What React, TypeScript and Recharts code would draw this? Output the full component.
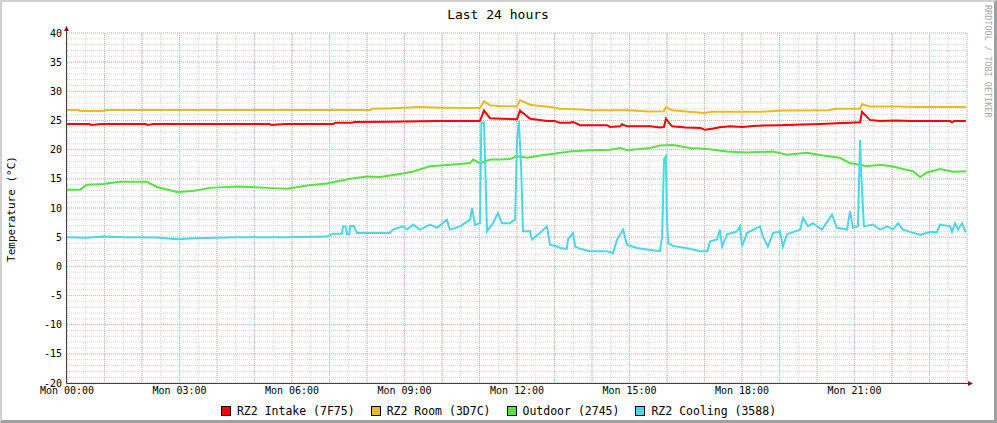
import React from 'react';
import { LineChart, Line, XAxis, YAxis, CartesianGrid } from 'recharts';

const FONT = '"DejaVu Sans Mono", monospace';

// hours since Mon 00:00 and temperatures (°C)
const intakeHours = [0, 0.6, 0.65, 0.9, 2.1, 2.15, 2.3, 5.4, 5.45, 5.8, 7.1, 7.15, 7.6, 7.65, 8.6, 9.9, 11.01, 11.12, 11.28, 11.6, 12.0, 12.08, 12.35, 12.61, 12.8, 13.0, 13.15, 13.41, 13.49, 13.55, 13.68, 14.4, 14.48, 14.75, 14.8, 14.93, 15.55, 15.81, 15.92, 15.97, 16.13, 16.5, 16.9, 17.01, 17.2, 17.41, 17.68, 18.0, 18.4, 19.01, 19.6, 20.08, 20.88, 21.15, 21.2, 21.41, 21.68, 22.1, 22.5, 23.55, 23.6, 23.65, 23.97];
const intakeTemp = [24.4, 24.4, 24.25, 24.4, 24.4, 24.25, 24.4, 24.4, 24.25, 24.4, 24.4, 24.6, 24.6, 24.75, 24.8, 24.9, 24.9, 26.7, 25.4, 25.3, 25.2, 26.7, 25.3, 25.1, 24.9, 24.9, 24.6, 24.6, 24.75, 24.6, 24.2, 24.2, 23.9, 24.0, 24.35, 24.0, 24.0, 23.8, 23.9, 25.3, 24.0, 23.8, 23.7, 23.4, 23.6, 23.85, 24.0, 23.9, 24.1, 24.2, 24.3, 24.4, 24.6, 24.7, 26.5, 25.1, 24.9, 25.0, 24.9, 24.9, 24.7, 24.9, 24.9];

const roomHours = [0, 0.3, 0.35, 1.0, 1.05, 8.1, 8.13, 8.7, 9.4, 10.0, 11.01, 11.12, 11.28, 11.6, 12.0, 12.08, 12.35, 12.61, 12.9, 13.15, 13.7, 14.0, 15.0, 15.5, 15.92, 15.97, 16.13, 16.6, 17.0, 17.2, 18.5, 19.1, 20.3, 20.5, 21.15, 21.2, 21.41, 22.2, 22.5, 23.97];
const roomTemp = [26.8, 26.8, 26.65, 26.65, 26.8, 26.8, 27.0, 27.1, 27.3, 27.2, 27.15, 28.3, 27.6, 27.45, 27.45, 28.5, 27.7, 27.5, 27.3, 27.0, 26.9, 26.75, 26.75, 26.55, 26.6, 27.3, 26.75, 26.5, 26.3, 26.5, 26.5, 26.7, 26.75, 27.0, 27.0, 27.8, 27.4, 27.4, 27.3, 27.3];

const outdoorHours = [0, 0.35, 0.53, 0.96, 1.41, 2.13, 2.4, 2.93, 3.36, 3.81, 4.53, 5.33, 5.87, 6.4, 6.93, 7.55, 8.0, 8.35, 8.96, 9.23, 9.68, 9.95, 10.4, 10.75, 10.83, 11.01, 11.28, 11.55, 11.81, 12.0, 12.27, 12.61, 12.88, 13.41, 13.95, 14.48, 14.75, 14.93, 15.55, 15.81, 16.16, 16.61, 17.07, 17.6, 18.13, 18.83, 19.2, 19.73, 20.16, 20.61, 20.88, 21.33, 21.68, 22.03, 22.29, 22.56, 22.75, 22.93, 23.28, 23.63, 23.97];
const outdoorTemp = [13.15, 13.15, 14.0, 14.1, 14.5, 14.5, 13.6, 12.75, 12.9, 13.45, 13.7, 13.45, 13.3, 13.85, 14.2, 15.0, 15.4, 15.3, 15.9, 16.25, 17.15, 17.3, 17.5, 17.7, 18.3, 17.7, 18.3, 18.3, 18.4, 18.85, 18.6, 19.0, 19.2, 19.7, 19.9, 20.0, 20.3, 19.9, 20.3, 20.7, 20.8, 20.3, 20.1, 19.7, 19.5, 19.7, 19.15, 19.45, 19.0, 18.6, 17.7, 17.15, 17.4, 17.1, 16.7, 16.3, 15.3, 16.1, 16.7, 16.2, 16.3];

const coolingHours = [0, 0.5, 0.96, 1.5, 2.4, 2.93, 3.4, 4.53, 5.87, 6.93, 7.09, 7.33, 7.36, 7.43, 7.47, 7.53, 7.55, 7.65, 7.73, 8.61, 8.69, 8.96, 9.07, 9.23, 9.41, 9.68, 9.87, 10.13, 10.21, 10.48, 10.75, 10.8, 10.83, 10.88, 11.01, 11.05, 11.12, 11.15, 11.2, 11.36, 11.49, 11.6, 11.81, 11.95, 12.0, 12.05, 12.11, 12.16, 12.35, 12.4, 12.61, 12.8, 12.88, 13.07, 13.15, 13.33, 13.36, 13.49, 13.55, 13.68, 13.95, 14.4, 14.56, 14.67, 14.83, 14.93, 15.2, 15.55, 15.81, 15.87, 15.92, 15.97, 16.0, 16.03, 16.16, 16.61, 16.88, 17.07, 17.15, 17.33, 17.41, 17.47, 17.6, 17.87, 17.95, 18.0, 18.13, 18.4, 18.48, 18.56, 18.69, 18.83, 19.01, 19.09, 19.2, 19.55, 19.63, 19.76, 19.89, 20.13, 20.4, 20.53, 20.8, 20.88, 20.96, 21.09, 21.15, 21.17, 21.25, 21.49, 21.68, 21.87, 22.03, 22.16, 22.29, 22.48, 22.75, 23.01, 23.2, 23.28, 23.55, 23.6, 23.68, 23.76, 23.87, 23.95, 23.97];
const coolingTemp = [4.97, 4.9, 5.1, 5.0, 4.95, 4.65, 4.8, 5.0, 5.0, 5.1, 5.6, 5.6, 6.85, 6.85, 5.5, 5.5, 6.9, 6.9, 5.7, 5.7, 6.3, 6.85, 6.3, 7.15, 6.3, 7.15, 6.6, 8.0, 6.3, 6.85, 8.0, 10.0, 9.0, 7.1, 7.4, 24.6, 24.6, 17.7, 6.0, 7.4, 9.15, 7.4, 7.4, 8.0, 21.7, 24.9, 17.0, 6.0, 6.0, 4.6, 5.7, 6.85, 3.7, 3.4, 3.15, 3.0, 4.6, 5.7, 3.4, 3.0, 2.6, 2.6, 2.3, 4.6, 6.3, 3.7, 3.15, 2.8, 2.6, 5.15, 18.3, 18.85, 8.0, 4.0, 3.5, 3.0, 2.6, 2.6, 4.3, 4.6, 6.3, 3.4, 5.5, 6.0, 6.85, 3.4, 5.7, 6.6, 6.85, 5.1, 3.4, 5.7, 6.0, 3.4, 5.5, 6.3, 8.3, 6.85, 7.4, 6.3, 8.85, 6.6, 6.3, 9.4, 6.6, 6.85, 21.7, 17.1, 6.85, 7.15, 6.3, 6.85, 6.3, 7.4, 6.3, 5.9, 5.4, 5.9, 5.9, 7.15, 6.85, 5.9, 7.4, 6.3, 7.4, 6.0, 6.2];

const hourTicks = [0, 3, 6, 9, 12, 15, 18, 21];
const tempTicks = [-20, -15, -10, -5, 0, 5, 10, 15, 20, 25, 30, 35, 40];

const zip = (hours: number[], temps: number[]) =>
  hours.slice(0, temps.length).map((t, i) => ({ t, v: temps[i] }));

const series = [
  { name: 'RZ2 Intake (7F75)', color: '#ff0000', data: zip(intakeHours, intakeTemp) },
  { name: 'RZ2 Room (3D7C)', color: '#e8bb1e', data: zip(roomHours, roomTemp) },
  { name: 'Outdoor (2745)', color: '#55e33f', data: zip(outdoorHours, outdoorTemp) },
  { name: 'RZ2 Cooling (3588)', color: '#4ad8e8', data: zip(coolingHours, coolingTemp) },
];

// grid lines
const minorHours = Array.from({ length: 49 }, (_, i) => i * 0.5);
const majorHours = Array.from({ length: 25 }, (_, i) => i);
const minorTemps = Array.from({ length: 61 }, (_, i) => i - 20);

const tickStyle = { fill: '#000', fontSize: 10, fontFamily: FONT };

const App = () => {
  return (
    <div style={{ position: 'absolute', left: 0, top: 0, width: 997, height: 423, background: '#fff', fontFamily: FONT }}>
      <LineChart width={997} height={423} margin={{ top: 33, right: 30, bottom: 0, left: 0 }}>
        <CartesianGrid horizontalValues={minorTemps} verticalValues={minorHours} stroke="#d6d6d6" strokeDasharray="1 1" />
        <CartesianGrid horizontalValues={tempTicks} verticalValues={majorHours} stroke="#e8acac" strokeDasharray="1 1" />
        <XAxis
          dataKey="t"
          type="number"
          domain={[0, 24]}
          ticks={hourTicks}
          allowDuplicatedCategory={false}
          tickFormatter={(h) => `Mon ${String(h).padStart(2, '0')}:00`}
          axisLine={false}
          tickLine={false}
          tickSize={2}
          tickMargin={2}
          height={40}
          tick={tickStyle}
          interval={0}
        />
        <YAxis
          type="number"
          domain={[-20, 40]}
          ticks={tempTicks}
          axisLine={false}
          tickLine={false}
          tickSize={3}
          tickMargin={2}
          width={67}
          tick={tickStyle}
          interval={0}
        />
        {series.map((s) => (
          <Line
            key={s.name}
            data={s.data}
            dataKey="v"
            name={s.name}
            type="linear"
            stroke={s.color}
            strokeWidth={2}
            dot={false}
            activeDot={false}
            isAnimationActive={false}
          />
        ))}
      </LineChart>

      <svg width={997} height={423} style={{ position: 'absolute', left: 0, top: 0, pointerEvents: 'none' }}>
        <line x1={66.5} y1={383.5} x2={66.5} y2={29} stroke="#404040" strokeWidth={1} />
        <line x1={66.5} y1={383.5} x2={969} y2={383.5} stroke="#404040" strokeWidth={1} />
        <polygon points="64,31 69,31 66.5,26" fill="#7a1a1a" />
        <polygon points="968,381 968,386 973,383.5" fill="#7a1a1a" />
        <text x={11} y={209} transform="rotate(-90 11 209)" textAnchor="middle" dominantBaseline="central" fontSize={11} fontFamily={FONT} fill="#000">
          Temperature (°C)
        </text>
        <text x={988} y={5} transform="rotate(90 988 5)" textAnchor="start" dominantBaseline="central" fontSize={8.5} fontFamily={FONT} fill="#a8a8a8">
          RRDTOOL / TOBI OETIKER
        </text>
        <text x={498} y={14} textAnchor="middle" dominantBaseline="central" fontSize={13} fontFamily={FONT} fill="#000">
          Last 24 hours
        </text>
      </svg>

      <div style={{ position: 'absolute', left: 0, top: 404, width: 997, display: 'flex', justifyContent: 'center', gap: 16, fontSize: 11.5, lineHeight: '14px', color: '#000' }}>
        {series.map((s) => (
          <div key={s.name} style={{ display: 'flex', alignItems: 'center', gap: 6 }}>
            <span style={{ display: 'inline-block', width: 8, height: 8, background: s.color, border: '1px solid #000' }} />
            <span>{s.name}</span>
          </div>
        ))}
      </div>

      <div style={{ position: 'absolute', left: 0, top: 0, width: 997, height: 423, boxSizing: 'border-box', borderTop: '2px solid #d0d0d0', borderLeft: '2px solid #d0d0d0', borderRight: '3px solid #a0a0a0', borderBottom: '3px solid #a0a0a0', pointerEvents: 'none' }} />
    </div>
  );
};

export default App;
